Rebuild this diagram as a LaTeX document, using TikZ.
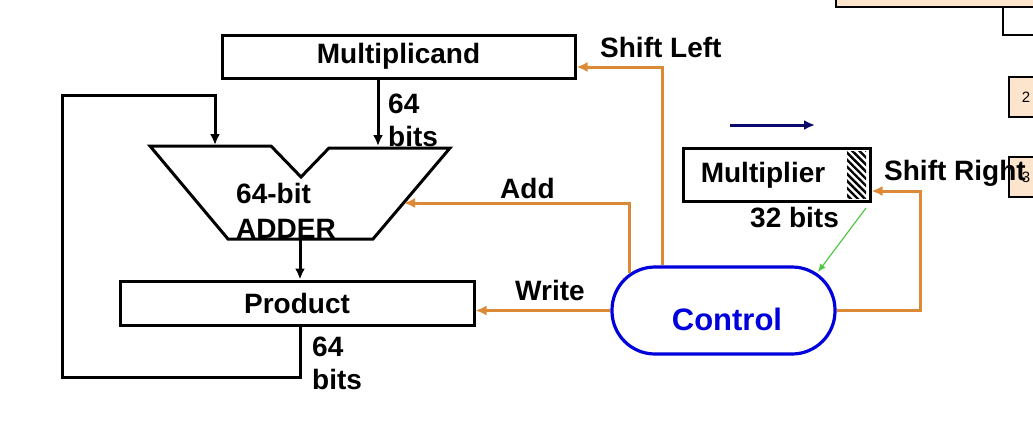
\documentclass[tikz,border=0pt]{standalone}
\usepackage{fontspec}
\setmainfont{Liberation Sans}
\usetikzlibrary{arrows.meta,patterns.meta}
\definecolor{ctrlorange}{RGB}{221,138,56}
\definecolor{ctrlblue}{RGB}{0,0,220}
\definecolor{peach}{RGB}{252,228,205}
\definecolor{navyarrow}{RGB}{10,10,110}
\definecolor{greenarrow}{RGB}{80,200,70}
\begin{document}
\begin{tikzpicture}
[x=1pt,y=-1pt,
  regdecorate/.style={draw,line width=3pt,inner sep=0pt,font=\bfseries\fontsize{28}{33}\selectfont},%
  labeldecorate/.style={inner sep=0pt,align=left,anchor=west,font=\bfseries\fontsize{28}{33}\selectfont},%
  datadecorate/.style={line width=3pt,-{Latex[length=11pt,width=10pt]}},%
  ctrldecorate/.style={ctrlorange,line width=3pt,-{Latex[length=11pt,width=10pt]}},%
  edgedecorate/.style={draw,line width=1.6pt}]
\useasboundingbox (0,0) rectangle (1033,437);
%% pieces of the next slide at the right border
\filldraw[peach,draw=black,line width=1.6pt] (836,-5) rectangle (1040,7);
\draw[edgedecorate] (1003,7) rectangle (1040,35);
\foreach \boxname/\y/\digit in {boxtwo/77/2, boxthree/157/3} {
  \filldraw[peach,draw=black,line width=1.6pt] (1009,\y) rectangle (1040,\y+40);
  \node (\boxname) at (1026,\y+20) [font=\fontsize{15}{17}\selectfont] {\digit};
}
%% registers
\node (mcand) at (398.5,56.5) [regdecorate,minimum width=353pt,minimum height=43pt] {Multiplicand};
\node (prod) at (297,303) [regdecorate,minimum width=354pt,minimum height=44pt] {Product};
\node (mplier) at (776.5,174.5) [regdecorate,minimum width=187pt,minimum height=53pt] {};
\node (mpliertext) at (763,175) [font=\bfseries\fontsize{28}{33}\selectfont] {Multiplier};
\fill[pattern={Lines[angle=-45,distance=5pt,line width=2.4pt]}] (847,151) rectangle (866,198);
%% control unit
\node (ctrl) at (723.5,310.5) [draw=ctrlblue,line width=3.2pt,rounded corners=43pt,minimum width=223pt,minimum height=87pt] {};
\node (ctrltext) at (727,319) [text=ctrlblue,font=\bfseries\fontsize{31}{36}\selectfont] {Control};
%% adder outline
\foreach \ptname/\x/\y in {a1/150/146, a2/271/146, a3/301/177, a4/329/148, a5/450/148, a6/373/239, a7/228/239} {
  \coordinate (\ptname) at (\x,\y);
}
\draw[line width=3pt,line join=miter] (a1) -- (a2) -- (a3) -- (a4) -- (a5) -- (a6) -- (a7) -- cycle;
\node (addertext) at (236,211) [labeldecorate,font=\bfseries\fontsize{28}{35}\selectfont] {64-bit\\ADDER};
%% bend points of the connectors
\coordinate (addina) at (215,145);
\coordinate (addinb) at (378,146);
\coordinate (addout) at (300,239);
\coordinate (loopbl) at (62,377);
\coordinate (looptl) at (62,95);
\coordinate (slbend) at (662,67);
\coordinate (addstart) at (629,273);
\coordinate (addend) at (404,203);
\coordinate (srbend) at (920,191);
\coordinate (greenstart) at (866,208);
\coordinate (greenend) at (818,272);
\coordinate (navystart) at (730,125);
\coordinate (navyend) at (815,125);
%% data paths
\draw[datadecorate] (addinb |- mcand.south) -- (addinb);
\draw[datadecorate] (addout) -- (addout |- prod.north);
\draw[datadecorate] (addout |- prod.south) |- (loopbl) -- (looptl) -| (addina);
%% control lines
\draw[ctrldecorate] (slbend |- ctrl.north) -- (slbend) -- (slbend -| mcand.east);
\draw[ctrldecorate] (addstart) |- (addend);
\draw[ctrldecorate] (ctrl.west) -- (ctrl.west -| prod.east);
\draw[ctrldecorate] (ctrl.east) -| (srbend) -- (srbend -| mplier.east);
\draw[greenarrow,line width=1.2pt,-{Latex[length=8pt,width=7pt]}] (greenstart) -- (greenend);
\draw[navyarrow,line width=3pt,-{Latex[length=11pt,width=10pt]}] (navystart) -- (navyend);
%% labels
\node (sltext) at (600,47) [labeldecorate] {Shift Left};
\node (addtext) at (500,188) [labeldecorate] {Add};
\node (wrtext) at (515,290) [labeldecorate] {Write};
\node (srtext) at (884,173) [labeldecorate] {Shift Right};
\node (mcandbits) at (388,120.5) [labeldecorate] {64\\bits};
\node (prodbits) at (312,363.5) [labeldecorate] {64\\bits};
\node (mplierbits) at (750,218) [labeldecorate] {32 bits};
\end{tikzpicture}
\end{document}
